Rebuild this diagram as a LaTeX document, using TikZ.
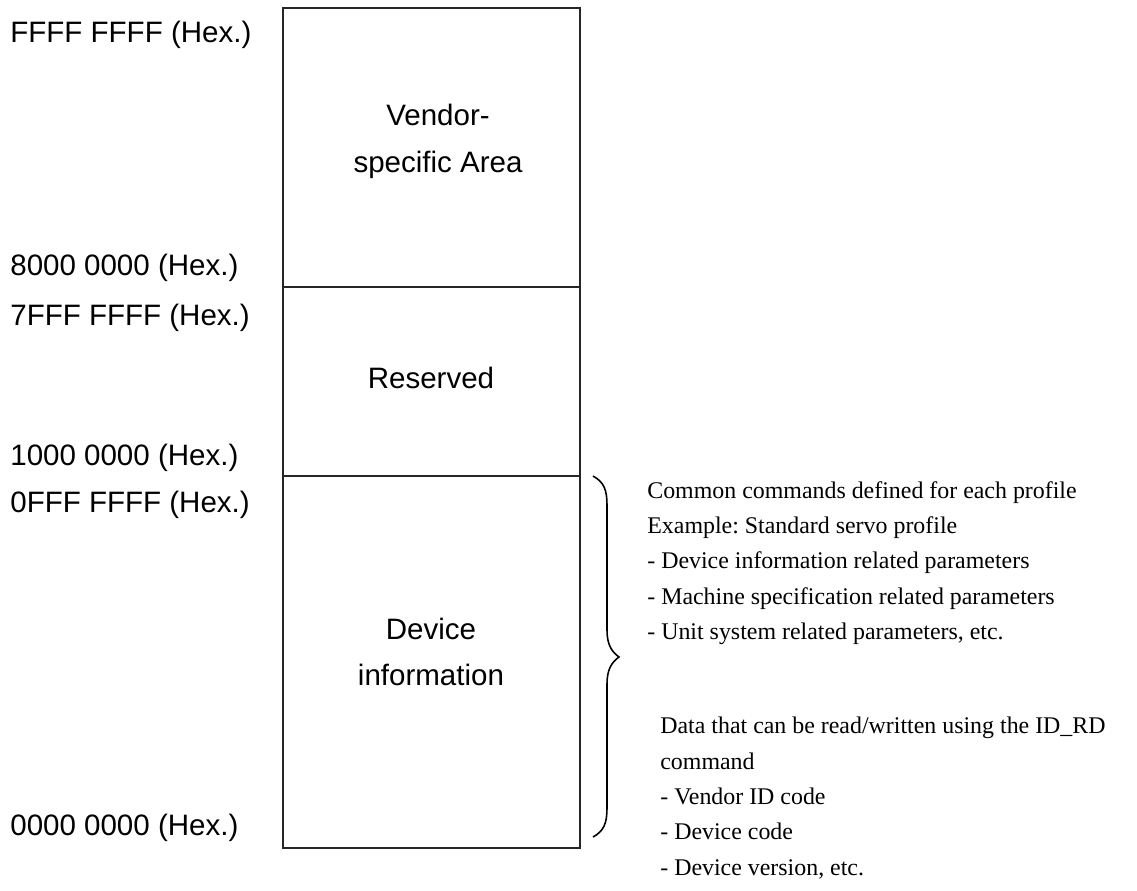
\documentclass[tikz,border=0pt]{standalone}
\usepackage{fontspec}
\setmainfont{Liberation Sans}
\newfontfamily\serifnote{Liberation Serif}
\frenchspacing
\begin{document}
\begin{tikzpicture}[x=0.02cm,y=-0.02cm,
  frame/.style={draw=black!85,line width=0.85pt},
  addr/.style={anchor=west,inner sep=0pt,font=\fontsize{16.8}{20}\selectfont},
  area/.style={align=center,inner sep=0pt,font=\fontsize{16.8}{26.6}\selectfont},
  note/.style={anchor=north west,align=left,inner sep=0pt,
    font=\serifnote\fontsize{13.6}{20.1}\selectfont},
  bracepath/.style={draw=black,line width=0.9pt}]
\useasboundingbox (0,0) rectangle (1137,890);

% memory map frame with its two dividers
\coordinate (tl) at (283,8);
\coordinate (br) at (580,848);
\draw[frame] (tl) rectangle (br);
\coordinate (d1l) at (283,287); \coordinate (d1r) at (580,287);
\coordinate (d2l) at (283,476); \coordinate (d2r) at (580,476);
\draw[frame] (d1l) -- (d1r);
\draw[frame] (d2l) -- (d2r);

% area names
\node[area] (vendor)   at (438,141) {Vendor-\\specific Area};
\node[area] (reserved) at (431,378) {Reserved};
\node[area] (device)   at (431,652) {Device\\information};

% address labels
\node[addr] (a1) at (10,35)  {FFFF FFFF (Hex.)};
\node[addr] (a2) at (10,268) {8000 0000 (Hex.)};
\node[addr] (a3) at (10,318) {7FFF FFFF (Hex.)};
\node[addr] (a4) at (10,458) {1000 0000 (Hex.)};
\node[addr] (a5) at (10,505) {0FFF FFFF (Hex.)};
\node[addr] (a6) at (10,828) {0000 0000 (Hex.)};

% curly brace beside the device information area
\coordinate (bt) at (593,476);
\coordinate (bm) at (619,657);
\coordinate (bb) at (593,837);
\draw[bracepath] (bt) .. controls (604,482) and (607,490) .. (607,505)
  -- (607,630) .. controls (607,645) and (612,652) .. (bm)
  .. controls (612,662) and (607,669) .. (607,684)
  -- (607,808) .. controls (607,823) and (604,831) .. (bb);

% explanatory notes
\node[note] (n1) at (647,481) {Common commands defined for each profile\\
  Example: Standard servo profile\\
  - Device information related parameters\\
  - Machine specification related parameters\\
  - Unit system related parameters, etc.};
\node[note] (n2) at (660,717) {Data that can be read/written using the ID\_RD\\
  command\\
  - Vendor ID code\\
  - Device code\\
  - Device version, etc.};
\end{tikzpicture}
\end{document}
